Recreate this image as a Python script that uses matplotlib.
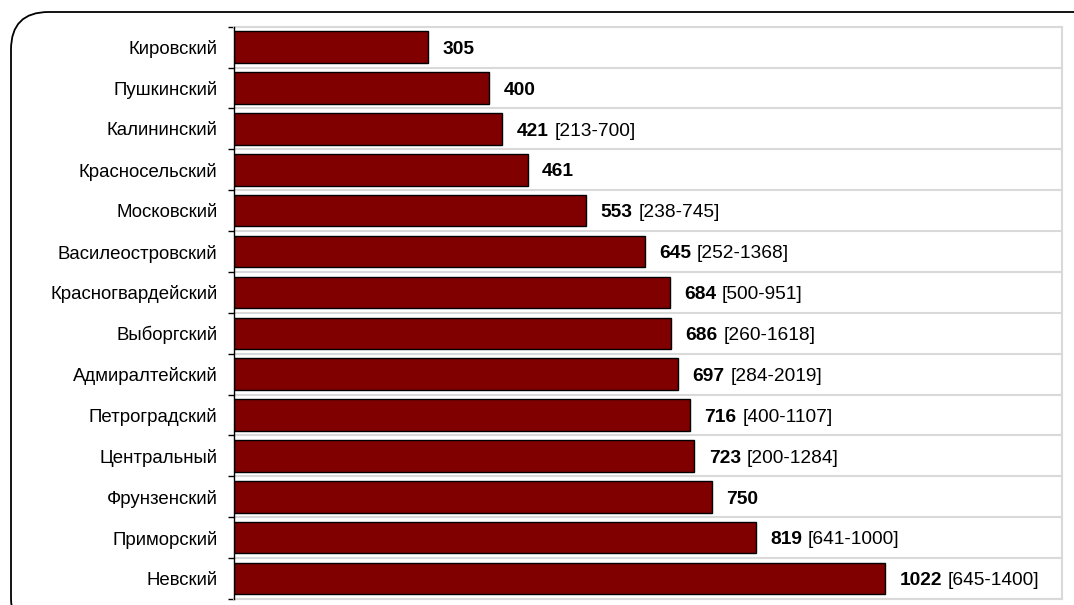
import matplotlib
matplotlib.use("Agg")
import matplotlib.pyplot as plt
from matplotlib.patches import FancyBboxPatch
import numpy as np

plt.rcParams['font.family'] = ['Liberation Sans', 'DejaVu Sans']

districts = ["Кировский", "Пушкинский", "Калининский", "Красносельский",
             "Московский", "Василеостровский", "Красногвардейский", "Выборгский",
             "Адмиралтейский", "Петроградский", "Центральный", "Фрунзенский",
             "Приморский", "Невский"]
values = [305, 400, 421, 461, 553, 645, 684, 686, 697, 716, 723, 750, 819, 1022]
range_low = [None, None, 213, None, 238, 252, 500, 260, 284, 400, 200, None, 641, 645]
range_high = [None, None, 700, None, 745, 1368, 951, 1618, 2019, 1107, 1284, None, 1000, 1400]

W, H = 1074, 605
fig = plt.figure(figsize=(W / 100, H / 100), dpi=100)
fig.patch.set_facecolor("white")

# rounded frame around the whole chart
frame = FancyBboxPatch((11 / W, -0.05), 1.1, 1 - 12 / H + 0.05,
                       boxstyle="round,pad=0,rounding_size=0.035",
                       transform=fig.transFigure, facecolor="none",
                       edgecolor="black", linewidth=1.3, mutation_aspect=W / H)
fig.patches.append(frame)

left, right, top, bottom = 234 / W, 1062 / W, 1 - 26.7 / H, 1 - 599 / H
ax = fig.add_axes([left, bottom, right - left, top - bottom])

n = len(districts)
y = np.arange(n)
ax.barh(y, values, height=0.77, color="#800000", edgecolor="black", linewidth=1.0, zorder=3)

ax.set_xlim(0, 1300)
ax.set_ylim(n - 0.5, -0.5)

ax.set_yticks(y)
ax.set_yticklabels(districts, fontsize=13.4)
ax.tick_params(axis="y", which="major", length=0, pad=12)
ax.set_yticks(np.arange(-0.5, n, 1.0), minor=True)
ax.tick_params(axis="y", which="minor", length=4, width=1.0, color="black", direction="out")
ax.set_xticks([])

# horizontal separators between categories
for b in np.arange(-0.5, n, 1.0):
    ax.axhline(b, color="#d9d9d9", linewidth=1.5, zorder=1)

for side in ("top", "right", "bottom"):
    ax.spines[side].set_color("#d9d9d9")
    ax.spines[side].set_linewidth(1.5)
ax.spines["left"].set_color("black")
ax.spines["left"].set_linewidth(1.0)
ax.spines["left"].set_zorder(4)

for i, v in enumerate(values):
    t = ax.annotate(str(v), xy=(v, i), xytext=(10.5, -1.6), textcoords="offset points",
                    ha="left", va="center", fontsize=13.8, fontweight="bold")
    if range_low[i] is not None:
        ax.annotate(f"[{range_low[i]}-{range_high[i]}]", xy=(1, 0.5), xycoords=t,
                    xytext=(4, 0), textcoords="offset points",
                    ha="left", va="center", fontsize=13.8)

fig.savefig("out.png", dpi=100, facecolor="white")
